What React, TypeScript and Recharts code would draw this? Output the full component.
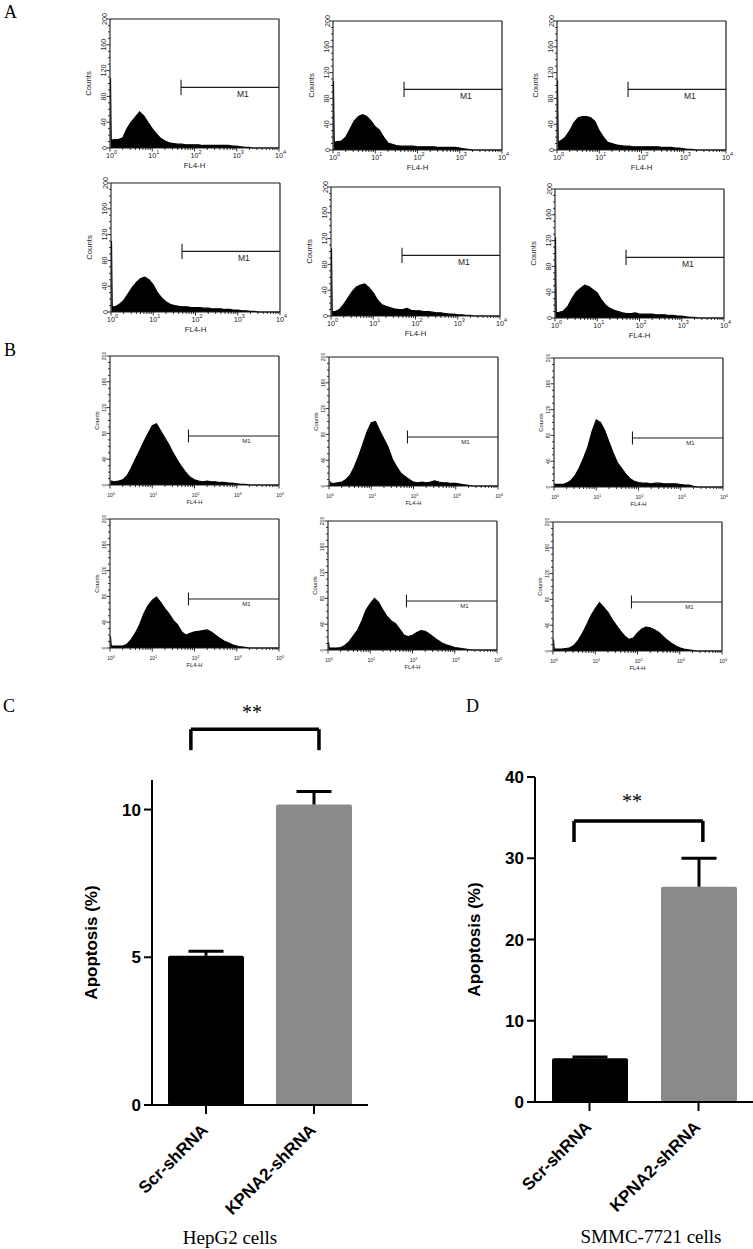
import React from "react";
import {
  AreaChart,
  Area,
  XAxis,
  YAxis,
  ReferenceLine,
  ReferenceDot,
  BarChart,
  Bar,
} from "recharts";

const SANS = "'Liberation Sans', Arial, Helvetica, sans-serif";
const SERIF = "'Liberation Serif', 'Times New Roman', serif";
const INK = "#000";
const INK_H = "#1c1c1c";

// FL4-H channels, 0.1 decade steps (first two = the pile-up at the low end)
const FL4_CHANNELS = [
  1.03, 1.07, 1.26, 1.58, 2, 2.51, 3.16, 3.98, 5.01, 6.31, 7.94, 10, 12.6, 15.8, 20, 25.1,
  31.6, 39.8, 50.1, 63.1, 79.4, 100, 126, 158, 200, 251, 316, 398, 501, 631, 794, 1000,
  1259, 1585, 1995, 2512, 3162, 3981, 5012, 6310, 7943, 10000,
];
const FL4_TICKS = [
  1, 2, 3, 4, 5, 6, 7, 8, 9, 10, 20, 30, 40, 50, 60, 70, 80, 90, 100, 200, 300, 400, 500,
  600, 700, 800, 900, 1000, 2000, 3000, 4000, 5000, 6000, 7000, 8000, 9000, 10000,
];
const COUNT_TICKS = [0, 10, 20, 30, 40, 50, 60, 70, 80, 90, 100, 110, 120, 130, 140, 150, 160, 170, 180, 190, 200];

// panel A histograms (counts per channel)
const A_TOP_1 = [108, 12, 13, 13, 16, 30, 40, 48, 56, 50, 40, 30, 22, 15, 11, 8, 7, 6, 6, 5, 5, 5, 5, 4, 4, 4, 4, 4, 4, 4, 3, 3, 2, 1, 1, 0, 0, 0, 0, 0, 0, 0];
const A_TOP_2 = [107, 12, 13, 14, 20, 32, 45, 52, 55, 52, 45, 36, 31, 20, 11, 9, 7, 6, 6, 6, 6, 5, 5, 5, 5, 5, 4, 4, 4, 4, 4, 3, 2, 1, 0, 0, 0, 0, 0, 0, 0, 0];
const A_TOP_3 = [108, 12, 15, 20, 30, 42, 50, 52, 52, 50, 44, 30, 20, 12, 10, 8, 7, 6, 6, 5, 5, 5, 5, 5, 5, 5, 4, 4, 4, 3, 3, 2, 1, 1, 0, 0, 0, 0, 0, 0, 0, 0];
const A_BOT_1 = [110, 8, 8, 12, 18, 28, 38, 46, 52, 54, 50, 42, 30, 22, 16, 12, 10, 9, 8, 8, 7, 7, 7, 6, 6, 5, 5, 5, 4, 4, 3, 3, 2, 2, 1, 1, 0, 0, 0, 0, 0, 0];
const A_BOT_2 = [105, 7, 7, 10, 18, 28, 38, 45, 48, 50, 44, 36, 25, 18, 15, 13, 11, 10, 10, 12, 9, 8, 8, 7, 7, 6, 5, 5, 4, 3, 3, 2, 2, 1, 1, 0, 0, 0, 0, 0, 0, 0];
const A_BOT_3 = [125, 8, 9, 11, 18, 30, 40, 46, 51, 49, 44, 39, 28, 20, 15, 12, 10, 8, 7, 7, 8, 6, 6, 6, 6, 5, 5, 5, 4, 4, 3, 3, 2, 1, 1, 0, 0, 0, 0, 0, 0, 0];

// panel B histograms
const B_TOP_1 = [6, 6, 5, 6, 8, 14, 26, 40, 53, 67, 80, 92, 95, 84, 73, 62, 49, 38, 28, 19, 12, 8, 6, 5, 6, 5, 5, 4, 4, 3, 3, 2, 1, 1, 0, 0, 0, 0, 0, 0, 0, 0];
const B_TOP_2 = [8, 5, 4, 5, 6, 10, 17, 30, 46, 65, 84, 98, 100, 86, 73, 60, 42, 30, 20, 15, 10, 6, 5, 6, 5, 6, 8, 6, 5, 5, 4, 4, 3, 2, 1, 0, 0, 0, 0, 0, 0, 0];
const B_TOP_3 = [5, 4, 4, 4, 6, 10, 18, 30, 45, 62, 86, 104, 100, 88, 70, 53, 38, 29, 20, 13, 9, 7, 6, 6, 5, 6, 6, 5, 5, 5, 5, 4, 3, 3, 1, 0, 0, 0, 0, 0, 0, 0];
const B_BOT_1 = [18, 3, 3, 3, 3, 6, 13, 23, 36, 53, 66, 74, 79, 71, 61, 53, 43, 36, 25, 20, 23, 25, 26, 27, 28, 25, 20, 15, 11, 8, 5, 3, 2, 1, 0, 0, 0, 0, 0, 0, 0, 0];
const B_BOT_2 = [12, 3, 3, 3, 4, 7, 13, 22, 31, 45, 62, 72, 80, 74, 62, 52, 45, 41, 32, 23, 21, 23, 27, 30, 29, 25, 20, 15, 11, 8, 6, 4, 3, 2, 1, 0, 0, 0, 0, 0, 0, 0];
const B_BOT_3 = [18, 3, 3, 3, 4, 5, 9, 17, 28, 41, 55, 66, 75, 68, 60, 49, 40, 31, 23, 18, 20, 28, 34, 37, 36, 33, 29, 23, 17, 12, 8, 5, 3, 2, 1, 0, 0, 0, 0, 0, 0, 0];

// M1 gates (FL4-H start, counts level, half tick height, label position)
const GATE_A = { start: 48, level: 94, half: 12, labelX: 1400, labelY: 84 };
const GATE_B = { start: 72, level: 76, half: 10, labelX: 1700, labelY: 68 };

// apoptosis bars
const GROUPS = ["Scr-shRNA", "KPNA2-shRNA"];
const GROUP_SLOTS = [0.5, 1.5];
const HEPG2_PCT = [5.05, 10.17];
const HEPG2_ERR = [0.15, 0.44];
const SMMC_PCT = [5.4, 26.5];
const SMMC_ERR = [0.15, 3.5];
const HEPG2_TICKS = [0, 5, 10];
const SMMC_TICKS = [0, 10, 20, 30, 40];
const BAR_FILLS = ["#000000", "#8a8a8a"];

// significance brackets, in slot / percent units
const BRACKET_HEPG2 = { x0: 0.36, x1: 1.546, top: 12.72, leg: 12.01, starX: 0.926, starY: 13.29 };
const BRACKET_SMMC = { x0: 0.358, x1: 1.54, top: 34.6, leg: 32.0, starX: 0.89, starY: 37.0 };

const STYLE_A = { tickFs: 7.2, supFs: 5.4, xLabelDy: 9.5, yLabelDx: 3.5, countsDx: 19, flDy: 20, labelFs: 7.8, m1Fs: 8.5 };
const STYLE_B = { tickFs: 5, supFs: 4, xLabelDy: 12, yLabelDx: 4, countsDx: 11, flDy: 19, labelFs: 5.8, m1Fs: 6 };

const HIST_PANELS = [
  { counts: A_TOP_1, left: 110, top: 19, s: STYLE_A, gate: GATE_A },
  { counts: A_TOP_2, left: 333, top: 21, s: STYLE_A, gate: GATE_A },
  { counts: A_TOP_3, left: 557, top: 21, s: STYLE_A, gate: GATE_A },
  { counts: A_BOT_1, left: 111, top: 183, s: STYLE_A, gate: GATE_A },
  { counts: A_BOT_2, left: 331, top: 187, s: STYLE_A, gate: GATE_A },
  { counts: A_BOT_3, left: 555, top: 189, s: STYLE_A, gate: GATE_A },
  { counts: B_TOP_1, left: 110, top: 356, s: STYLE_B, gate: GATE_B },
  { counts: B_TOP_2, left: 329, top: 357, s: STYLE_B, gate: GATE_B },
  { counts: B_TOP_3, left: 554, top: 358, s: STYLE_B, gate: GATE_B },
  { counts: B_BOT_1, left: 110, top: 519, s: STYLE_B, gate: GATE_B },
  { counts: B_BOT_2, left: 328, top: 521, s: STYLE_B, gate: GATE_B },
  { counts: B_BOT_3, left: 553, top: 522, s: STYLE_B, gate: GATE_B },
];

function LogTick({ x, y, payload, s }: any) {
  const v = payload.value;
  const exp = Math.round(Math.log10(v));
  const major = Math.abs(v - Math.pow(10, exp)) < 1e-6;
  return (
    <g>
      <line x1={x} x2={x} y1={y} y2={y + (major ? 3.5 : 2)} stroke={INK_H} strokeWidth={0.9} />
      {major && (
        <g fill={INK_H} fontFamily={SANS}>
          <text x={x} y={y + s.xLabelDy} textAnchor="middle" fontSize={s.tickFs}>10</text>
          <text x={x + s.tickFs * 0.56} y={y + s.xLabelDy - s.tickFs * 0.42} fontSize={s.supFs}>{exp}</text>
        </g>
      )}
    </g>
  );
}

function CountTick({ x, y, payload, s }: any) {
  const v = payload.value;
  const major = v % 40 === 0;
  const lx = x - s.yLabelDx;
  return (
    <g>
      <line x1={x} x2={x - (major ? 3.5 : 2)} y1={y} y2={y} stroke={INK_H} strokeWidth={0.9} />
      {major && (
        <text x={lx} y={y} transform={`rotate(-90 ${lx} ${y})`} textAnchor="middle" fontSize={s.tickFs} fill={INK_H} fontFamily={SANS}>
          {v}
        </text>
      )}
    </g>
  );
}

function FlowHistogram({ counts, left, top, s, gate }: any) {
  const rows = FL4_CHANNELS.map((x, i) => ({ fl4: x, events: counts[i] }));
  return (
    <div style={{ position: "absolute", left: left - 40, top: top - 8 }}>
      <AreaChart width={219} height={167} data={rows} margin={{ top: 8, right: 10, left: 16, bottom: 10 }}>
        <XAxis
          dataKey="fl4"
          type="number"
          scale="log"
          domain={[1, 10000]}
          ticks={FL4_TICKS}
          interval={0}
          height={20}
          tickSize={0}
          tickMargin={0}
          tickLine={false}
          axisLine={{ stroke: INK_H, strokeWidth: 1.1 }}
          tick={(p: any) => <LogTick {...p} s={s} />}
          label={(p: any) => {
            const vb = p.viewBox;
            return (
              <text x={vb.x + vb.width / 2} y={vb.y + s.flDy} textAnchor="middle" fontSize={s.labelFs} fill={INK_H} fontFamily={SANS}>
                FL4-H
              </text>
            );
          }}
        />
        <YAxis
          type="number"
          domain={[0, 200]}
          ticks={COUNT_TICKS}
          interval={0}
          width={24}
          tickSize={0}
          tickMargin={0}
          tickLine={false}
          axisLine={{ stroke: INK_H, strokeWidth: 1.1 }}
          tick={(p: any) => <CountTick {...p} s={s} />}
          label={(p: any) => {
            const vb = p.viewBox;
            const cx = vb.x + vb.width - s.countsDx;
            const cy = vb.y + vb.height / 2;
            return (
              <text x={cx} y={cy} transform={`rotate(-90 ${cx} ${cy})`} textAnchor="middle" fontSize={s.labelFs} fill={INK_H} fontFamily={SANS}>
                Counts
              </text>
            );
          }}
        />
        <Area dataKey="events" type="linear" stroke="#000" strokeWidth={1.1} fill="#000" fillOpacity={1} isAnimationActive={false} dot={false} activeDot={false} />
        <ReferenceLine y={200} stroke={INK_H} strokeWidth={1.2} />
        <ReferenceLine x={10000} stroke={INK_H} strokeWidth={1.2} />
        <ReferenceLine segment={[{ x: gate.start, y: gate.level }, { x: 10000, y: gate.level }]} stroke={INK_H} strokeWidth={1.1} />
        <ReferenceLine segment={[{ x: gate.start, y: gate.level - gate.half }, { x: gate.start, y: gate.level + gate.half }]} stroke={INK_H} strokeWidth={1.1} />
        <ReferenceDot
          x={gate.labelX}
          y={gate.labelY}
          r={0}
          fill="none"
          stroke="none"
          label={{ value: "M1", position: "center", fontSize: s.m1Fs, fill: INK_H, fontFamily: SANS }}
        />
      </AreaChart>
    </div>
  );
}

function SlantTick({ x, y, payload }: any) {
  const ax = x + 3;
  const ay = y + 17;
  return (
    <text x={ax} y={ay} transform={`rotate(-45 ${ax} ${ay})`} textAnchor="end" fontSize={17} fontWeight={700} fill={INK} fontFamily={SANS}>
      {payload.value}
    </text>
  );
}

function barWithError(p: any) {
  const cx = p.x + p.width / 2;
  const pxPerUnit = p.height / p.payload.pct;
  const capY = p.y - p.payload.err * pxPerUnit;
  return (
    <g>
      <rect x={p.x} y={p.y} width={p.width} height={p.height} fill={BAR_FILLS[p.index]} rx={2} />
      <line x1={cx} x2={cx} y1={p.y} y2={capY} stroke={INK} strokeWidth={3} />
      <line x1={cx - 17.5} x2={cx + 17.5} y1={capY} y2={capY} stroke={INK} strokeWidth={3} />
    </g>
  );
}

function ApoptosisChart({ pct, err, yMax, yTicks, bracket, left, width, margin, xAxisHeight }: any) {
  const rows = GROUPS.map((g, i) => ({ group: g, slot: GROUP_SLOTS[i], pct: pct[i], err: err[i] }));
  const lineProps = { xAxisId: "pos", stroke: INK, strokeWidth: 3.5, ifOverflow: "visible" as const };
  return (
    <div style={{ position: "absolute", left, top: 680 }}>
      <BarChart width={width} height={569} data={rows} margin={margin}>
        <XAxis
          xAxisId="cat"
          dataKey="group"
          type="category"
          interval={0}
          height={xAxisHeight}
          tickSize={9}
          tickMargin={0}
          axisLine={{ stroke: INK, strokeWidth: 2 }}
          tickLine={{ stroke: INK, strokeWidth: 2 }}
          tick={SlantTick}
        />
        <XAxis xAxisId="pos" dataKey="slot" type="number" domain={[0, 2]} allowDataOverflow hide />
        <YAxis
          type="number"
          domain={[0, yMax]}
          ticks={yTicks}
          interval={0}
          width={72}
          tickSize={8}
          tickMargin={3}
          axisLine={{ stroke: INK, strokeWidth: 2 }}
          tickLine={{ stroke: INK, strokeWidth: 2 }}
          tick={{ fontSize: 17, fontWeight: 700, fill: INK, fontFamily: SANS }}
          label={(p: any) => {
            const vb = p.viewBox;
            const cx = vb.x + vb.width - 61;
            const cy = vb.y + vb.height / 2;
            return (
              <text x={cx} y={cy} transform={`rotate(-90 ${cx} ${cy})`} textAnchor="middle" dominantBaseline="central" fontSize={17} fontWeight={700} fill={INK} fontFamily={SANS}>
                Apoptosis (%)
              </text>
            );
          }}
        />
        <Bar xAxisId="cat" dataKey="pct" barSize={76} shape={barWithError} isAnimationActive={false} />
        <ReferenceLine {...lineProps} segment={[{ x: bracket.x0, y: bracket.leg }, { x: bracket.x0, y: bracket.top }]} />
        <ReferenceLine {...lineProps} segment={[{ x: bracket.x0, y: bracket.top }, { x: bracket.x1, y: bracket.top }]} />
        <ReferenceLine {...lineProps} segment={[{ x: bracket.x1, y: bracket.top }, { x: bracket.x1, y: bracket.leg }]} />
        <ReferenceDot
          xAxisId="pos"
          x={bracket.starX}
          y={bracket.starY}
          r={0}
          fill="none"
          stroke="none"
          ifOverflow="visible"
          label={{ value: "**", position: "center", fontSize: 20, fill: INK, fontFamily: SERIF }}
        />
      </BarChart>
    </div>
  );
}

const letter = (txt: string, left: number, top: number) => (
  <div style={{ position: "absolute", left, top, fontFamily: SERIF, fontSize: 18, lineHeight: "18px", color: "#000" }}>{txt}</div>
);

const caption = (txt: string, cx: number, top: number) => (
  <div style={{ position: "absolute", left: cx - 100, width: 200, top, textAlign: "center", fontFamily: SERIF, fontSize: 19, lineHeight: "19px", color: "#000" }}>
    {txt}
  </div>
);

export default function App() {
  return (
    <div style={{ position: "absolute", left: 0, top: 0, width: 753, height: 1249, background: "#fff", overflow: "hidden" }}>
      {letter("A", 4, 3)}
      {letter("B", 4, 341)}
      {letter("C", 3, 697)}
      {letter("D", 466, 697)}
      {HIST_PANELS.map((p, i) => (
        <FlowHistogram key={i} {...p} />
      ))}
      <ApoptosisChart
        pct={HEPG2_PCT}
        err={HEPG2_ERR}
        yMax={11}
        yTicks={HEPG2_TICKS}
        bracket={BRACKET_HEPG2}
        left={0}
        width={380}
        margin={{ top: 100, right: 12, left: 80, bottom: 0 }}
        xAxisHeight={144}
      />
      <ApoptosisChart
        pct={SMMC_PCT}
        err={SMMC_ERR}
        yMax={40}
        yTicks={SMMC_TICKS}
        bracket={BRACKET_SMMC}
        left={380}
        width={373}
        margin={{ top: 97, right: 0, left: 83, bottom: 0 }}
        xAxisHeight={147}
      />
      {caption("HepG2 cells", 230, 1228)}
      {caption("SMMC-7721 cells", 651, 1227)}
    </div>
  );
}
